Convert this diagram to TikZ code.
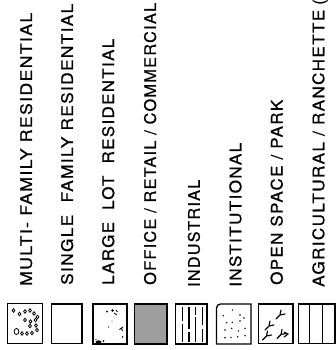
\documentclass[tikz,border=0pt]{standalone}
\usepackage{fontspec}
\setmainfont{TeX Gyre Heros}
\newfontfamily\labfont[LetterSpace=8,FakeBold=0.8]{TeX Gyre Heros}
\usepackage{graphicx}
\begin{document}
\begin{tikzpicture}[x=1pt,y=-1pt,
  lab/.style={rotate=90, anchor=west, inner sep=0pt, text height=11.5pt, text depth=0pt,
              font=\labfont\fontsize{16}{18}\selectfont},
  legbox/.style={draw, line width=1.3pt},
  ring/.style={draw, line width=0.8pt},
  speck/.style={fill},
  barline/.style={line width=1.1pt},
  sprigline/.style={line width=1.1pt, line cap=round},
  sprig/.pic={\draw[sprigline] (-4,4) -- (0,0) -- (5,-1) (0,0) -- (1,-5);}]
\useasboundingbox (0,0) rectangle (336,350);
\clip (0,0) rectangle (336,350);

% ---- labels ----
\node[lab] (t1) at (26.2,286) {\resizebox{273pt}{\height}{MULTI- FAMILY RESIDENTIAL}};
\node[lab] (t2) at (67.2,285) {\resizebox{281pt}{\height}{SINGLE\ \ FAMILY RESIDENTIAL}};
\node[lab] (t3) at (108.3,285) {\resizebox{246pt}{\height}{LARGE\ \ LOT\ \ RESIDENTIAL}};
\node[lab] (t4) at (150.2,285) {\resizebox{282pt}{\height}{OFFICE / RETAIL / COMMERCIAL}};
\node[lab] (t5) at (194,287) {\resizebox{107pt}{\height}{INDUSTRIAL}};
\node[lab] (t6) at (235.5,287) {\resizebox{144pt}{\height}{INSTITUTIONAL}};
\node[lab] (t7) at (276.8,285) {\resizebox{185pt}{\height}{OPEN SPACE / PARK}};
\node[lab] (t8) at (318.5,287) {\resizebox{277pt}{\height}{AGRICULTURAL / RANCHETTE}\hspace{5pt}(};

% ---- box 1: multi-family ----
\draw[legbox] (7.5,303.5) rectangle (42.5,343.5);
\foreach \x/\y in {13.5/310.5, 19.5/314, 25/311.5, 30/310.5, 34/313.5, 37.5/317,
                   25/320, 30.5/321.5, 35.5/320, 30/326, 36/325.5,
                   22/333.5, 27/333.5, 32/333, 37/330}
  \draw[ring] (\x,\y) ellipse (1.4 and 1.8);
\draw[ring] (16.5,331.5) ellipse (2.4 and 3);

% ---- box 2: single family ----
\draw[legbox] (51.5,304) rectangle (82,343.5);

% ---- box 3: large lot ----
\draw[legbox] (93,304) rectangle (127,344);
\fill[speck] (107,311.5) circle (1);
\fill[speck] (112.5,310.5) circle (1.3);
\draw[line width=0.8pt] (114,313) -- (117,315) (116,310) -- (117.5,312);
\fill[speck] (108.5,327) circle (0.6);
\fill[speck] (112,321) circle (0.5);
\draw[line width=0.9pt] (119.5,329.5) -- (123,327) (121.5,328) -- (122.5,331);
\fill[speck] (122.5,337) circle (0.8);
\fill[speck] (98.5,342) ellipse (3 and 1.6);
\fill[speck] (103.5,341) circle (1);
\fill[speck] (96,339.5) circle (0.6);

% ---- box 4: office / retail / commercial ----
\draw[legbox, fill=black!38] (134.5,304) rectangle (167,344);

% ---- box 5: industrial ----
\draw[legbox] (175.5,304) rectangle (207,344);
\draw[barline, dash pattern=on 14pt off 3pt on 30pt] (182.7,307) -- (182.7,342);
\draw[barline, dash pattern=on 22pt off 3pt on 30pt] (189,307) -- (189,342);
\draw[barline, dash pattern=on 8pt off 2pt on 30pt] (195.7,307) -- (195.7,342);
\draw[barline, dash pattern=on 18pt off 4pt on 30pt] (202.3,307) -- (202.3,342);

% ---- box 6: institutional ----
\draw[legbox] (251,344) -- (216.5,344) -- (216.5,308) [rounded corners=4pt] -- (216.5,304) [sharp corners] -- (251,304) -- cycle;
\foreach \x/\y in {223.3/315.7, 232.3/310, 240/315, 244/318, 226.7/322.7, 232.3/322.3,
                   240/321, 225/330, 231.7/328.3, 238.3/331, 245/328.3,
                   225/337.7, 231/337.3, 237.7/336.7, 245/335.7}
  \fill[speck] (\x,\y) circle (0.8);

% ---- box 7: open space / park ----
\draw[legbox] (258.5,304) rectangle (293,343.5);
\pic at (280,315) {sprig};
\pic at (269,326) {sprig};
\pic at (266.5,336) {sprig};
\pic at (281,334.5) {sprig};
\draw[sprigline] (284,332) -- (288,334) -- (284,337);

% ---- box 8: agricultural / ranchette ----
\draw[legbox] (298.5,304) rectangle (335,343.5);
\draw[line width=1.1pt] (309.5,304) -- (309.5,343.5) (322.5,304) -- (322.5,343.5);
\end{tikzpicture}
\end{document}
